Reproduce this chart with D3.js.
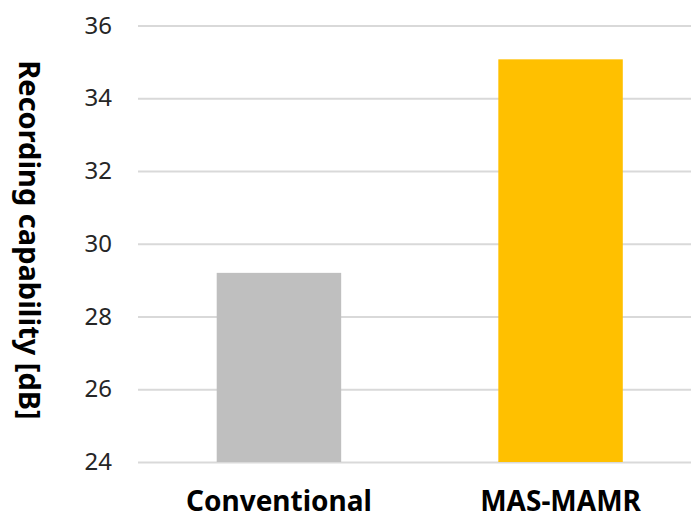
<!DOCTYPE html>
<html>
<head>
<meta charset="utf-8">
<script src="https://cdn.jsdelivr.net/npm/d3@7"></script>
<style>
  html, body { margin: 0; padding: 0; background: #fff; }
  svg { display: block; }
</style>
</head>
<body>
<script>
// Recording capability comparison
const categories = ["Conventional", "MAS-MAMR"];
const values = [29.2, 35.07];
const barColors = ["#bfbfbf", "#ffc000"];
const yTicks = [24, 26, 28, 30, 32, 34, 36];
const yTitle = "Recording capability [dB]";

const width = 691, height = 519;
const plot = { left: 138, right: 701.5, top: 25.5, bottom: 462 };

const svg = d3.select("body").append("svg")
  .attr("width", width)
  .attr("height", height);

const x = d3.scaleBand()
  .domain(categories)
  .range([plot.left, plot.right])
  .paddingInner(0.558)
  .paddingOuter(0.2795);

const y = d3.scaleLinear()
  .domain([24, 36])
  .range([plot.bottom, plot.top]);

// Horizontal gridlines with value labels
const yAxis = d3.axisLeft(y)
  .tickValues(yTicks)
  .tickSize(-(plot.right - plot.left))
  .tickPadding(26)
  .tickFormat(d3.format("d"));

const gy = svg.append("g")
  .attr("transform", `translate(${plot.left},0)`)
  .call(yAxis);
gy.select(".domain").remove();
gy.selectAll(".tick line")
  .attr("stroke", "#d9d9d9")
  .attr("stroke-width", 2);
gy.selectAll(".tick text")
  .attr("font-family", "'Noto Sans', sans-serif")
  .attr("font-size", 24)
  .attr("fill", "#262626");

// Bars
svg.append("g").selectAll("rect")
  .data(categories)
  .join("rect")
  .attr("x", d => x(d))
  .attr("width", x.bandwidth())
  .attr("y", (d, i) => y(values[i]))
  .attr("height", (d, i) => y(24) - y(values[i]))
  .attr("fill", (d, i) => barColors[i]);

// Category labels
const xAxis = d3.axisBottom(x).tickSize(0);
const gx = svg.append("g")
  .attr("transform", `translate(0,${plot.bottom})`)
  .call(xAxis);
gx.select(".domain").remove();
gx.selectAll(".tick text")
  .attr("y", 49)
  .attr("dy", 0)
  .attr("font-family", "'Noto Sans', sans-serif")
  .attr("font-weight", "bold")
  .attr("font-size", 28)
  .attr("fill", "#000");

// Axis title, reading top to bottom
svg.append("text")
  .attr("transform", `translate(19,240) rotate(90)`)
  .attr("text-anchor", "middle")
  .attr("font-family", "'Noto Sans', sans-serif")
  .attr("font-weight", "bold")
  .attr("font-size", 29)
  .attr("fill", "#000")
  .text(yTitle);
</script>
</body>
</html>
